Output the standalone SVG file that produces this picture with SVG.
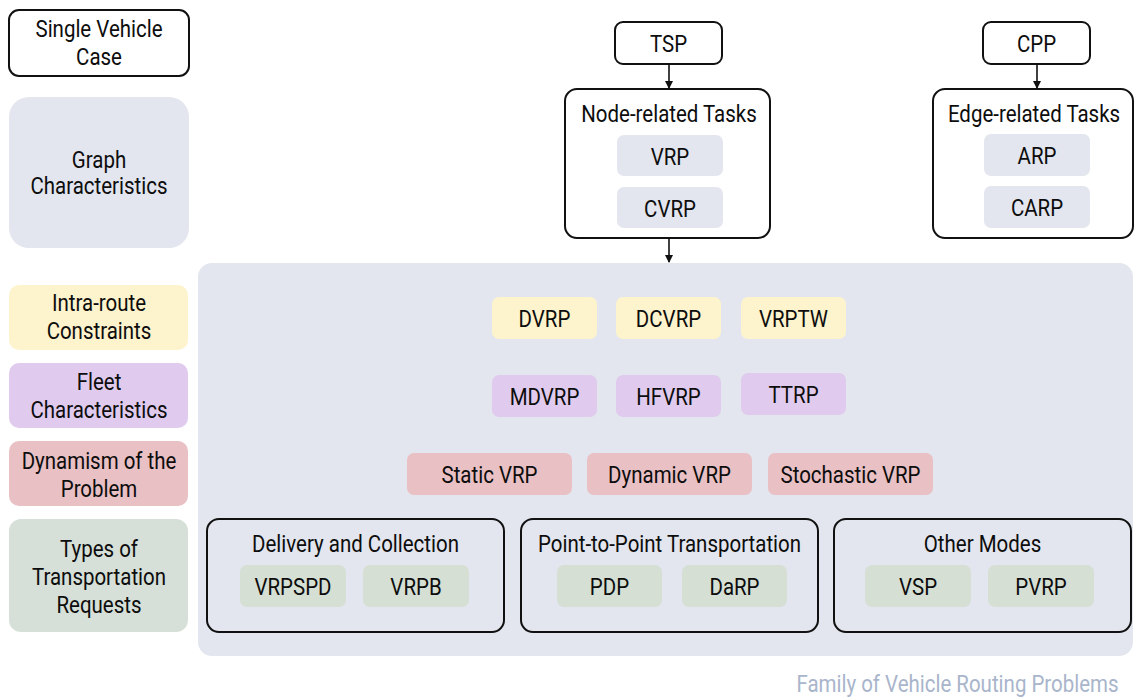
<svg xmlns="http://www.w3.org/2000/svg" width="1135" height="698" viewBox="0 0 1135 698">
<defs>
<style>
text{font-family:Roboto,"Liberation Sans",Arial,sans-serif;font-size:23px;fill:#0d0d0d;text-anchor:middle}
.ol{fill:#fff;stroke:#111;stroke-width:2}
.olp{fill:none;stroke:#111;stroke-width:2}
.gray{fill:#e3e6ee}
.yel{fill:#fdf3cc}
.pur{fill:#e0cbee}
.red{fill:#e9c0c3}
.grn{fill:#d6e0d8}
.grn2{fill:#d5dfd4}
.cap{fill:#a9b5cb}
.con{stroke:#111;stroke-width:1.6;fill:none}
</style>
<marker id="ah" markerWidth="8" markerHeight="8" refX="7" refY="4" orient="auto" markerUnits="userSpaceOnUse">
<path d="M0,0 L8,4 L0,8 Z" fill="#111"/>
</marker>
</defs>
<rect width="1135" height="698" fill="#fff"/>

<g id="legend-single"><rect class="ol" x="9" y="10" width="180" height="66" rx="10"/><text transform="translate(99 37) scale(0.89 1)">Single Vehicle</text><text transform="translate(99 64.5) scale(0.89 1)">Case</text></g>
<g id="legend-graph"><rect class="gray" x="9" y="97" width="180" height="151" rx="20"/><text transform="translate(99 167.5) scale(0.89 1)">Graph</text><text transform="translate(99 193.5) scale(0.89 1)">Characteristics</text></g>
<g id="legend-intra"><rect class="yel" x="9" y="285" width="179" height="65" rx="10"/><text transform="translate(99 310.5) scale(0.89 1)">Intra-route</text><text transform="translate(99 338.5) scale(0.89 1)">Constraints</text></g>
<g id="legend-fleet"><rect class="pur" x="9" y="363" width="179" height="65" rx="10"/><text transform="translate(99 389.5) scale(0.89 1)">Fleet</text><text transform="translate(99 417.5) scale(0.89 1)">Characteristics</text></g>
<g id="legend-dyn"><rect class="red" x="9" y="441" width="179" height="65" rx="10"/><text transform="translate(99 468.5) scale(0.89 1)">Dynamism of the</text><text transform="translate(99 496.5) scale(0.89 1)">Problem</text></g>
<g id="legend-types"><rect class="grn" x="9" y="519" width="179" height="113" rx="12"/><text transform="translate(99 556.5) scale(0.89 1)">Types of</text><text transform="translate(99 584.5) scale(0.89 1)">Transportation</text><text transform="translate(99 612.5) scale(0.89 1)">Requests</text></g>

<g id="panel"><rect class="gray" x="198" y="263" width="935" height="393" rx="14"/></g>

<g id="tsp"><rect class="ol" x="615" y="22" width="107" height="42" rx="8"/><text transform="translate(668.5 52) scale(0.89 1)">TSP</text></g>
<g id="cpp"><rect class="ol" x="983" y="22" width="107" height="42" rx="8"/><text transform="translate(1036.5 52) scale(0.89 1)">CPP</text></g>

<g id="node-tasks"><rect class="ol" x="565" y="89" width="205" height="149" rx="12"/><text transform="translate(669 121.5) scale(0.89 1)">Node-related Tasks</text>
<rect class="gray" x="617" y="135" width="106" height="41" rx="7"/><text transform="translate(670 164.5) scale(0.89 1)">VRP</text>
<rect class="gray" x="617" y="187" width="106" height="41" rx="7"/><text transform="translate(670 216.5) scale(0.89 1)">CVRP</text></g>

<g id="edge-tasks"><rect class="ol" x="933" y="89" width="200" height="149" rx="12"/><text transform="translate(1034 121.5) scale(0.89 1)">Edge-related Tasks</text>
<rect class="gray" x="984" y="134" width="106" height="42" rx="7"/><text transform="translate(1037 164) scale(0.89 1)">ARP</text>
<rect class="gray" x="984" y="186" width="106" height="42" rx="7"/><text transform="translate(1037 216) scale(0.89 1)">CARP</text></g>

<g id="dvrp"><rect class="yel" x="492" y="297" width="105" height="42" rx="7"/><text transform="translate(544.5 327) scale(0.89 1)">DVRP</text></g>
<g id="dcvrp"><rect class="yel" x="616" y="297" width="105" height="42" rx="7"/><text transform="translate(668.5 327) scale(0.89 1)">DCVRP</text></g>
<g id="vrptw"><rect class="yel" x="741" y="297" width="105" height="42" rx="7"/><text transform="translate(793.5 327) scale(0.89 1)">VRPTW</text></g>

<g id="mdvrp"><rect class="pur" x="492" y="375" width="105" height="42" rx="7"/><text transform="translate(544.5 405) scale(0.89 1)">MDVRP</text></g>
<g id="hfvrp"><rect class="pur" x="616" y="375" width="105" height="42" rx="7"/><text transform="translate(668.5 405) scale(0.89 1)">HFVRP</text></g>
<g id="ttrp"><rect class="pur" x="741" y="373" width="105" height="42" rx="7"/><text transform="translate(793.5 403) scale(0.89 1)">TTRP</text></g>

<g id="static"><rect class="red" x="407" y="453" width="165" height="42" rx="7"/><text transform="translate(489.5 483) scale(0.89 1)">Static VRP</text></g>
<g id="dynamic"><rect class="red" x="587" y="453" width="165" height="42" rx="7"/><text transform="translate(669.5 483) scale(0.89 1)">Dynamic VRP</text></g>
<g id="stochastic"><rect class="red" x="768" y="453" width="165" height="42" rx="7"/><text transform="translate(850.5 483) scale(0.89 1)">Stochastic VRP</text></g>

<g id="delivery"><rect class="olp" x="207" y="519" width="297" height="113" rx="12"/><text transform="translate(355.5 551.5) scale(0.89 1)">Delivery and Collection</text>
<rect class="grn2" x="240" y="565" width="106" height="42" rx="7"/><text transform="translate(293 595) scale(0.89 1)">VRPSPD</text>
<rect class="grn2" x="363" y="565" width="106" height="42" rx="7"/><text transform="translate(416 595) scale(0.89 1)">VRPB</text></g>
<g id="p2p"><rect class="olp" x="521" y="519" width="297" height="113" rx="12"/><text transform="translate(669.5 551.5) scale(0.89 1)">Point-to-Point Transportation</text>
<rect class="grn2" x="557" y="565" width="105" height="42" rx="7"/><text transform="translate(609.5 595) scale(0.89 1)">PDP</text>
<rect class="grn2" x="682" y="565" width="105" height="42" rx="7"/><text transform="translate(734.5 595) scale(0.89 1)">DaRP</text></g>
<g id="other"><rect class="olp" x="834" y="519" width="297" height="113" rx="12"/><text transform="translate(982.5 551.5) scale(0.89 1)">Other Modes</text>
<rect class="grn2" x="865" y="565" width="106" height="42" rx="7"/><text transform="translate(918 595) scale(0.89 1)">VSP</text>
<rect class="grn2" x="988" y="565" width="106" height="42" rx="7"/><text transform="translate(1041 595) scale(0.89 1)">PVRP</text></g>

<g id="connectors">
<line class="con" x1="669" y1="64" x2="669" y2="88" marker-end="url(#ah)"/>
<line class="con" x1="1037" y1="64" x2="1037" y2="88" marker-end="url(#ah)"/>
<line class="con" x1="669" y1="238" x2="669" y2="262" marker-end="url(#ah)"/>
</g>

<text class="cap" transform="translate(957.5 692) scale(0.89 1)">Family of Vehicle Routing Problems</text>
</svg>
